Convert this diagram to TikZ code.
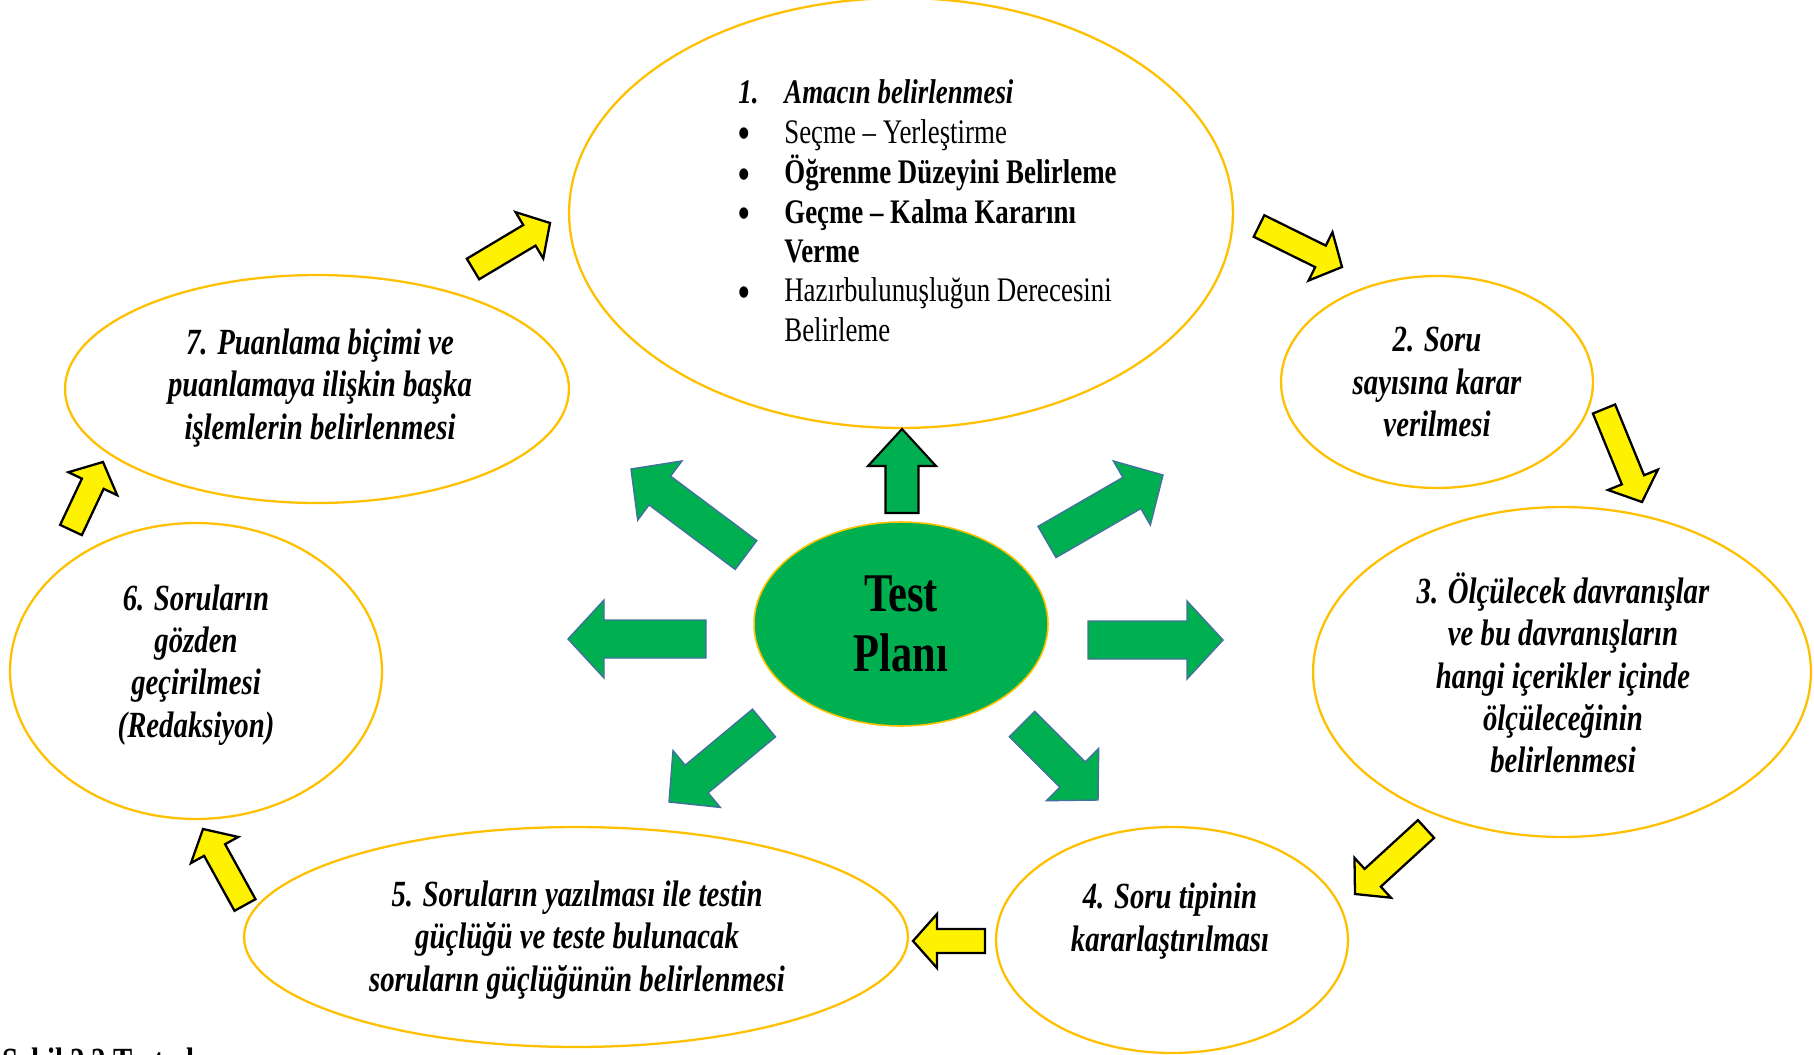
\documentclass[tikz,border=0pt]{standalone}
\usepackage{fontspec}
\setmainfont{Liberation Serif}[FakeStretch=0.78]
\usetikzlibrary{shapes.geometric,calc}

\definecolor{ringgold}{HTML}{FFC000}
\definecolor{plangreen}{HTML}{00B050}
\definecolor{spokeblue}{HTML}{41719C}

\tikzset{
  stage/.style={ellipse, draw=ringgold, line width=1.3pt, inner sep=0pt, fill=white},
  stagetext/.style={align=center, inner sep=0pt, font=\fontsize{21}{24}\selectfont\bfseries\itshape},
  cyclearrow/.style={fill=yellow, draw=black, line width=1.3pt},
  spoke/.style={fill=plangreen, draw=spokeblue, line width=0.8pt},
}

\newcommand{\bul}{{\fontsize{24}{22}\selectfont\bfseries\raisebox{-0.1em}{•}}}

% block arrow: style, from, to, half shaft, half head, head length
\newcommand{\blockarrow}[6]{%
  \coordinate (neck) at ($(#3)!#6!(#2)$);
  \draw[#1] ($(#2)!#4!90:(#3)$) -- ($(neck)!#4!90:(#3)$) -- ($(neck)!#5!90:(#3)$)
    -- (#3) -- ($(neck)!#5!-90:(#3)$) -- ($(neck)!#4!-90:(#3)$) -- ($(#2)!#4!-90:(#3)$) -- cycle;}

\begin{document}
\begin{tikzpicture}[x=0.02cm,y=-0.02cm]
  \useasboundingbox (0,0) rectangle (1814,1054);
  \clip (0,0) rectangle (1814,1054);

  % stages
  \node[stage, minimum width=13.28cm, minimum height=8.6cm] (s1) at (901,213) {};
  \node[stage, minimum width=6.24cm, minimum height=4.24cm] (s2) at (1437,382) {};
  \node[stage, minimum width=9.96cm, minimum height=6.6cm] (s3) at (1562,672) {};
  \node[stage, minimum width=7.04cm, minimum height=4.52cm] (s4) at (1172,940) {};
  \node[stage, minimum width=13.28cm, minimum height=4.4cm] (s5) at (576,937) {};
  \node[stage, minimum width=7.44cm, minimum height=5.92cm] (s6) at (196,671) {};
  \node[stage, minimum width=10.08cm, minimum height=4.56cm] (s7) at (317,389) {};

  \node[anchor=base west, inner sep=0pt, font=\fontsize{19.6}{22.4}\selectfont] (t1) at (738,104) {%
    \begin{tabular}[t]{@{}p{0.92cm}@{}l@{}}
      \textbf{\textit{1.}} & \textbf{\textit{Amacın belirlenmesi}}\\
      \bul & Seçme – Yerleştirme\\
      \bul & \textbf{Öğrenme Düzeyini Belirleme}\\
      \bul & \textbf{Geçme – Kalma Kararını}\\
           & \textbf{Verme}\\
      \bul & Hazırbulunuşluğun Derecesini\\
           & Belirleme
    \end{tabular}};
  \node[stagetext] (t2) at (1437,382) {2. Soru\\sayısına karar\\verilmesi};
  \node[stagetext] (t3) at (1563,673) {3. Ölçülecek davranışlar\\ve bu davranışların\\hangi içerikler içinde\\ölçüleceğinin\\belirlenmesi};
  \node[stagetext] (t4) at (1170,921) {4. Soru tipinin\\kararlaştırılması};
  \node[stagetext] (t5) at (577,940) {5. Soruların yazılması ile testin\\güçlüğü ve teste bulunacak\\soruların güçlüğünün belirlenmesi};
  \node[stagetext] (t6) at (196,665) {6. Soruların\\gözden\\geçirilmesi\\(Redaksiyon)};
  \node[stagetext] (t7) at (320,388) {7. Puanlama biçimi ve\\puanlamaya ilişkin başka\\işlemlerin belirlenmesi};

  % centre
  \node[ellipse, fill=plangreen, draw=ringgold, line width=0.9pt, inner sep=0pt,
        minimum width=5.88cm, minimum height=4.08cm, align=center,
        font=\fontsize{31}{34}\selectfont\bfseries] (plan) at (901,624) {Test\\Planı};

  % green spokes
  \coordinate (gNa) at (902,513);  \coordinate (gNb) at (902,429);
  \coordinate (gNEa) at (1047,542); \coordinate (gNEb) at (1163,475);
  \coordinate (gEa) at (1088,640); \coordinate (gEb) at (1223,640);
  \coordinate (gSEa) at (1022,724); \coordinate (gSEb) at (1098,800);
  \coordinate (gSWa) at (764,723); \coordinate (gSWb) at (669,802);
  \coordinate (gWa) at (706,639); \coordinate (gWb) at (568,639);
  \coordinate (gNWa) at (746,555); \coordinate (gNWb) at (631,469);
  \blockarrow{spoke, draw=black, line width=1.2pt}{gNa}{gNb}{0.33cm}{0.68cm}{0.74cm}
  \blockarrow{spoke}{gNEa}{gNEb}{0.36cm}{0.74cm}{0.72cm}
  \blockarrow{spoke}{gEa}{gEb}{0.38cm}{0.78cm}{0.72cm}
  \blockarrow{spoke}{gSEa}{gSEb}{0.36cm}{0.74cm}{0.72cm}
  \blockarrow{spoke}{gSWa}{gSWb}{0.36cm}{0.74cm}{0.72cm}
  \blockarrow{spoke}{gWa}{gWb}{0.38cm}{0.78cm}{0.72cm}
  \blockarrow{spoke}{gNWa}{gNWb}{0.36cm}{0.74cm}{0.72cm}

  % yellow cycle
  \coordinate (y71a) at (473,269);  \coordinate (y71b) at (550,223);
  \coordinate (y12a) at (1259,226); \coordinate (y12b) at (1342,267);
  \coordinate (y23a) at (1604,409); \coordinate (y23b) at (1642,502);
  \coordinate (y34a) at (1426,829); \coordinate (y34b) at (1355,894);
  \coordinate (y45a) at (985,941);  \coordinate (y45b) at (913,941);
  \coordinate (y56a) at (245,905);  \coordinate (y56b) at (203,829);
  \coordinate (y67a) at (71,530);   \coordinate (y67b) at (103,462);
  \blockarrow{cyclearrow}{y71a}{y71b}{0.24cm}{0.54cm}{0.48cm}
  \blockarrow{cyclearrow}{y12a}{y12b}{0.24cm}{0.54cm}{0.48cm}
  \blockarrow{cyclearrow}{y23a}{y23b}{0.24cm}{0.54cm}{0.48cm}
  \blockarrow{cyclearrow}{y34a}{y34b}{0.24cm}{0.54cm}{0.48cm}
  \blockarrow{cyclearrow}{y45a}{y45b}{0.24cm}{0.54cm}{0.48cm}
  \blockarrow{cyclearrow}{y56a}{y56b}{0.24cm}{0.54cm}{0.48cm}
  \blockarrow{cyclearrow}{y67a}{y67b}{0.24cm}{0.54cm}{0.48cm}

  \node[anchor=base west, inner sep=0pt, font=\fontsize{21}{24}\selectfont\bfseries] (caption) at (2,1073) {Şekil 2.2 Test planı};
\end{tikzpicture}
\end{document}
